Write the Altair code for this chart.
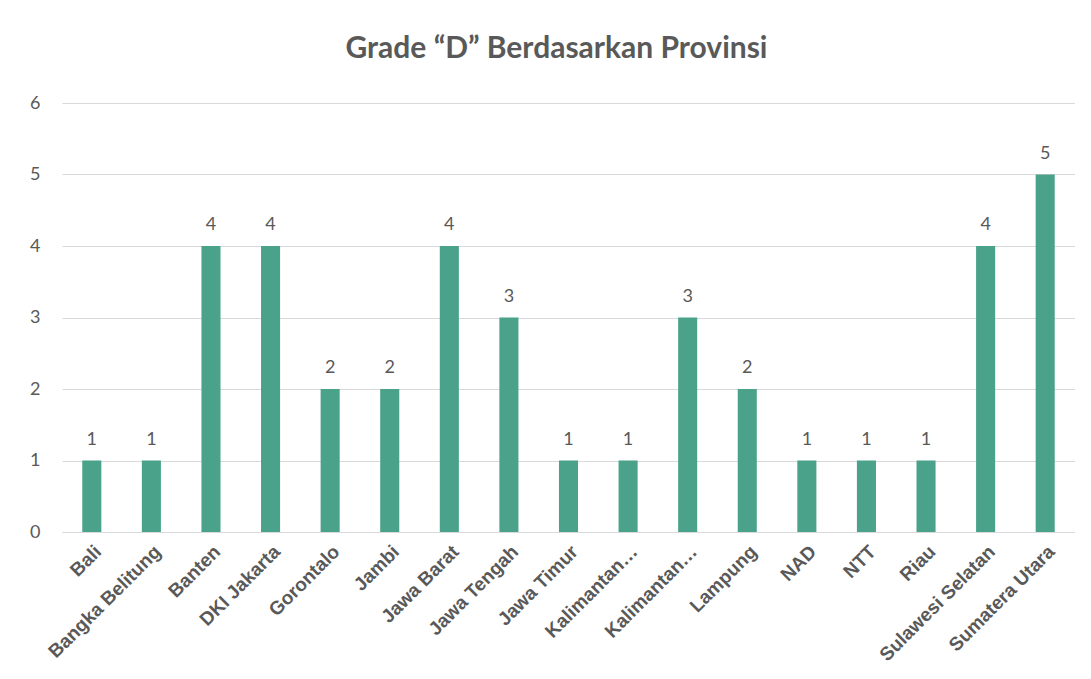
import altair as alt
import pandas as pd

provinces = ["Bali", "Bangka Belitung", "Banten", "DKI Jakarta", "Gorontalo", "Jambi",
             "Jawa Barat", "Jawa Tengah", "Jawa Timur", "Kalimantan Barat", "Kalimantan Timur",
             "Lampung", "NAD", "NTT", "Riau", "Sulawesi Selatan", "Sumatera Utara"]
counts = [1, 1, 4, 4, 2, 2, 4, 3, 1, 1, 3, 2, 1, 1, 1, 4, 5]
y_ticks = [0, 1, 2, 3, 4, 5, 6]

df = pd.DataFrame({"Provinsi": provinces, "Jumlah": counts})

GRAY = "#595959"
BAR = "#4aa28a"

x_enc = alt.X("Provinsi:N", sort=provinces, title=None,
              scale=alt.Scale(paddingInner=0.68, paddingOuter=0.34),
              axis=alt.Axis(labelAngle=-45, labelFont="Liberation Sans", labelFontWeight="bold",
                            labelFontSize=19, labelColor=GRAY, ticks=False, domainColor="#d9d9d9",
                            labelPadding=10, labelLimit=300,
                            labelExpr="indexof(datum.value, 'Kalimantan') == 0 ? 'Kalimantan…' : datum.value"))
y_enc = alt.Y("Jumlah:Q", title=None, scale=alt.Scale(domain=[0, 6], nice=False),
              axis=alt.Axis(values=y_ticks, format="d", labelFont="Lato", labelFontSize=18,
                            labelColor=GRAY, ticks=False, domain=False, gridColor="#d9d9d9",
                            labelPadding=22))

bars = alt.Chart(df).mark_bar(color=BAR).encode(x=x_enc, y=y_enc)
labels = alt.Chart(df).mark_text(baseline="bottom", dy=-12, font="Lato", fontSize=18, color=GRAY).encode(
    x=alt.X("Provinsi:N", sort=provinces), y="Jumlah:Q", text="Jumlah:Q")

chart = (bars + labels).properties(
    width=1013, height=429,
    title=alt.TitleParams("Grade “D” Berdasarkan Provinsi", font="Lato", fontSize=30,
                          fontWeight="bold", color=GRAY, anchor="middle", offset=30, dx=-12),
    autosize=alt.AutoSizeParams(type="none"),
    padding={"left": 54, "top": 95, "right": 0, "bottom": 150},
).configure_view(stroke=None)

chart.save("out.html", embed_options={"renderer": "svg", "actions": False})
